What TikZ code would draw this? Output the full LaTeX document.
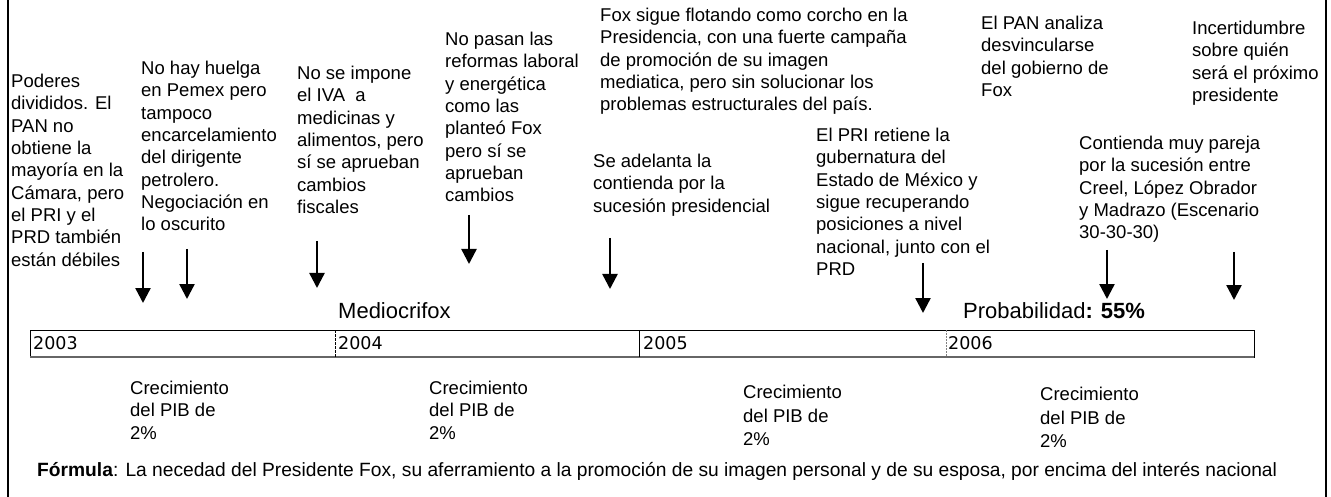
\documentclass[tikz,border=0pt]{standalone}
\usepackage{fontspec}
\setmainfont{Liberation Sans}
\newfontfamily\yearfont{DejaVu Sans}
\usetikzlibrary{arrows.meta}
\begin{document}
\begin{tikzpicture}[x=1pt,y=-1pt,
  evtext/.style={anchor=north west, inner sep=0pt, align=left,
    font=\fontsize{18.5}{22.3}\selectfont},
  bigtext/.style={anchor=base west, inner sep=0pt,
    font=\fontsize{22}{24}\selectfont},
  yeartext/.style={anchor=base west, inner sep=0pt,
    font=\yearfont\fontsize{17.5}{19}\selectfont},
  evarrow/.style={line width=2.4pt, -{Triangle[width=15pt,length=15pt]}},
  frameline/.style={line width=2.6pt, black},
  boxline/.style={line width=1pt, black}]
\useasboundingbox (0,0) rectangle (1331,497);

% outer frame (left and right sides only)
\draw[frameline] (8,0) -- (8,497);
\draw[frameline] (1326,0) -- (1326,497);

% event texts
\node[evtext] (e1) at (11,74) {Poderes\\divididos. El\\PAN no\\obtiene la\\mayoría en la\\Cámara, pero\\el PRI y el\\PRD también\\están débiles};
\node[evtext] (e2) at (141,61) {No hay huelga\\en Pemex pero\\tampoco\\encarcelamiento\\del dirigente\\petrolero.\\Negociación en\\lo oscurito};
\node[evtext] (e3) at (297,66) {No se impone\\el IVA\ \ a\\medicinas y\\alimentos, pero\\sí se aprueban\\cambios\\fiscales};
\node[evtext] (e4) at (445,32) {No pasan las\\reformas laboral\\y energética\\como las\\planteó Fox\\pero sí se\\aprueban\\cambios};
\node[evtext] (e5) at (600,8) {Fox sigue flotando como corcho en la\\Presidencia, con una fuerte campaña\\de promoción de su imagen\\mediatica, pero sin solucionar los\\problemas estructurales del país.};
\node[evtext] (e6) at (593,154) {Se adelanta la\\contienda por la\\sucesión presidencial};
\node[evtext] (e7) at (816,128) {El PRI retiene la\\gubernatura del\\Estado de México y\\sigue recuperando\\posiciones a nivel\\nacional, junto con el\\PRD};
\node[evtext] (e8) at (981,16) {El PAN analiza\\desvincularse\\del gobierno de\\Fox};
\node[evtext] (e9) at (1192,21) {Incertidumbre\\sobre quién\\será el próximo\\presidente};
\node[evtext] (e10) at (1079,136) {Contienda muy pareja\\por la sucesión entre\\Creel, López Obrador\\y Madrazo (Escenario\\30-30-30)};

% arrows
\coordinate (a1s) at (143,252); \coordinate (a1e) at (143,303);
\coordinate (a2s) at (187,249); \coordinate (a2e) at (187,299);
\coordinate (a3s) at (317,241); \coordinate (a3e) at (317,288);
\coordinate (a4s) at (469,215); \coordinate (a4e) at (469,264);
\coordinate (a5s) at (610,238); \coordinate (a5e) at (610,289);
\coordinate (a6s) at (923,263); \coordinate (a6e) at (923,313);
\coordinate (a7s) at (1107,250); \coordinate (a7e) at (1107,299);
\coordinate (a8s) at (1234,252); \coordinate (a8e) at (1234,300);
\foreach \i in {1,...,8} {\draw[evarrow] (a\i s) -- (a\i e);}

% titles above the timeline
\node[bigtext] (med) at (338,318) {Mediocrifox};
\node[bigtext] (prob) at (963,318) {Probabilidad\textbf{: 55\%}};

% timeline box
\coordinate (tlnw) at (30,330);
\coordinate (tlse) at (1254,357);
\draw[boxline] (tlnw) rectangle (tlse);
\draw[line width=1.6pt, black!60] (30,357) -- (1254,357);
\draw[line width=0.9pt, dash pattern=on 2.5pt off 1.5pt] (335,330) -- (335,357);
\draw[line width=1pt] (639,330) -- (639,357);
\draw[line width=0.7pt, black!50, dash pattern=on 2pt off 1pt] (946,330) -- (946,357);
\node[yeartext] (y3) at (33,349) {2003};
\node[yeartext] (y4) at (338,349) {2004};
\node[yeartext] (y5) at (643,349) {2005};
\node[yeartext] (y6) at (948,349) {2006};

% GDP growth
\node[evtext] (g1) at (130,381) {Crecimiento\\del PIB de\\2\%};
\node[evtext] (g2) at (429,381) {Crecimiento\\del PIB de\\2\%};
\node[evtext, font=\fontsize{18.5}{23.6}\selectfont] (g3) at (743,385) {Crecimiento\\del PIB de\\2\%};
\node[evtext, font=\fontsize{18.5}{23.6}\selectfont] (g4) at (1040,387) {Crecimiento\\del PIB de\\2\%};

% formula
\node[anchor=base west, inner sep=0pt, font=\fontsize{19.2}{22}\selectfont] (form) at (37,476)
  {\textbf{Fórmula}: La necedad del Presidente Fox, su aferramiento a la promoción de su imagen personal y de su esposa, por encima del interés nacional};
\end{tikzpicture}
\end{document}
